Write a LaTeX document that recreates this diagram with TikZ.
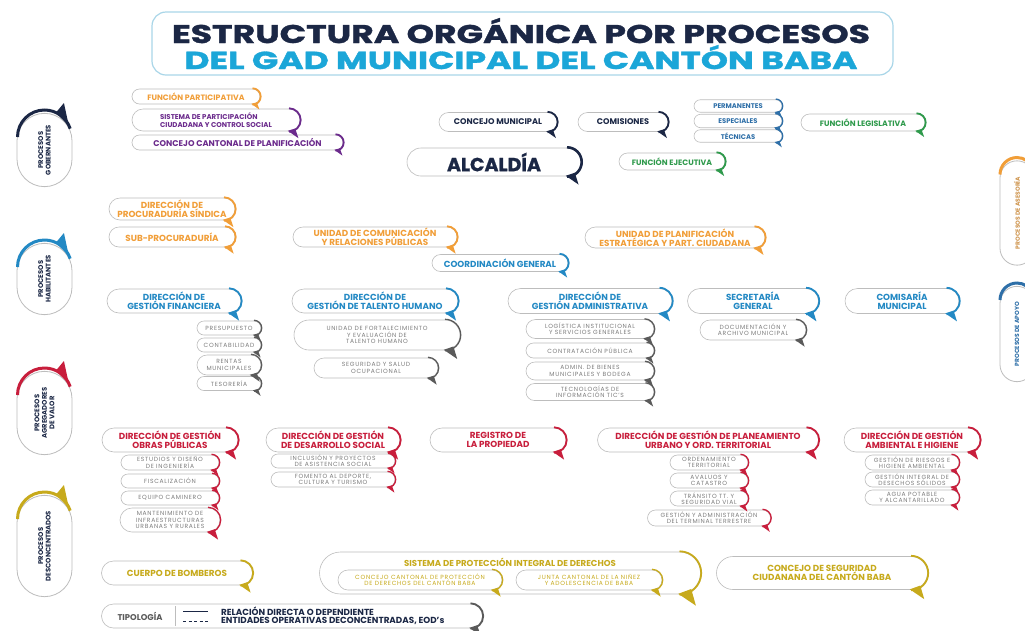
\documentclass[tikz,border=0pt]{standalone}
\usepackage{fontspec}
\setmainfont{Poppins}
\usepackage{graphicx}
\usetikzlibrary{shapes.misc,calc}
\pgfdeclarelayer{bg}
\pgfsetlayers{bg,main}
\definecolor{navy}{HTML}{1B2745}
\definecolor{cyanT}{HTML}{1BA6D8}
\definecolor{blueT}{HTML}{2389C4}
\definecolor{blueS}{HTML}{2E6FA8}
\definecolor{orangeT}{HTML}{F19E38}
\definecolor{purpleT}{HTML}{6B2A8C}
\definecolor{greenT}{HTML}{2F9A4C}
\definecolor{redT}{HTML}{C81E3C}
\definecolor{goldT}{HTML}{C7AA1C}
\definecolor{grayT}{HTML}{7C7C7C}
\definecolor{grayB}{HTML}{5A5A5A}
\definecolor{pillB}{HTML}{BDBDBD}
\definecolor{lineC}{HTML}{3C3C3C}
\definecolor{titleB}{HTML}{A9D6E8}
\newcommand\setfs[2]{\fontsize{#1}{#2}\selectfont}
\newcommand\brk[3][1.8pt]{%
  \draw[#3,line width=#1] let \p1=(#2.north),\p2=(#2.south),\p3=(#2.east),
      \n1={(\y1-\y2)/2},\n2={(\y1-\y2)/2+0.4pt} in
    ({\x3-\n1},{\y1-\n1+\n2}) arc[start angle=90,end angle=-90,radius=\n2];
  \fill[#3] let \p1=(#2.north),\p2=(#2.south),\p3=(#2.east),\n1={(\y1-\y2)/2} in
    ({\x3-\n1-1.2pt},{\y2+0.5pt}) -- ({\x3-0.3*\n1+1.5pt},{\y2-0.45*\n1-1.8pt})
      -- ({\x3-0.45*\n1},{\y2+0.25*\n1}) -- cycle;
}
\newcommand\sidearc[4]{% node, half length, radius, colour
  \draw[#4,line width=3pt] let \p1=(#1.center) in
    ({\x1-#3pt},{\y1+#2pt-#3pt}) arc[start angle=180,end angle=18,radius=#3pt];
  \fill[#4] let \p1=(#1.center) in
    ({\x1+0.42*#3pt},{\y1+#2pt-#3pt+0.9*#3pt}) -- ({\x1+0.72*#3pt},{\y1+#2pt+7pt})
      -- ({\x1+0.9*#3pt},{\y1+#2pt-#3pt+0.42*#3pt}) -- cycle;
}
\begin{document}
\begin{tikzpicture}[x=1pt,y=-1pt,
  pill/.style={rounded rectangle, draw=pillB, line width=0.6pt, fill=white, inner xsep=2pt, inner ysep=0.5pt, align=center},
  hd/.style={pill, font=\setfs{8.8}{9}\bfseries},
  sb/.style={pill, font=\setfs{6}{6.4}\addfontfeature{LetterSpace=12}, text=grayT},
  conn/.style={draw=lineC, line width=0.8pt},
  eod/.style={draw=navy!80, line width=0.7pt, dash pattern=on 2.5pt off 2pt},
  side/.style={rounded rectangle, draw=pillB, line width=0.8pt, fill=white, minimum height=55, rotate=90, align=center, font=\setfs{6.8}{7.4}\bfseries, text=navy}]
\useasboundingbox (0,0) rectangle (1025,630);
\clip (0,0) rectangle (1025,630);
\fill[white] (0,0) rectangle (1025,630);

% title
\node[draw=titleB, line width=1.2pt, rounded corners=14pt, minimum width=741, minimum height=63, fill=white] (tbox) at (522.5,43.5) {};
\node[anchor=base, text=navy, inner sep=0] (t1) at (521,43) {\resizebox{698pt}{25pt}{\setfs{24}{24}\bfseries\addfontfeature{FakeBold=1.2} ESTRUCTURA ORGÁNICA POR PROCESOS}};
\node[anchor=base, text=cyanT, inner sep=0] (t2) at (521,69) {\resizebox{673pt}{24pt}{\setfs{24}{24}\bfseries\addfontfeature{FakeBold=1.2} DEL GAD MUNICIPAL DEL CANTÓN BABA}};

% side labels
\node[side, minimum width=80] (gob) at (44.5,150) {PROCESOS\\GOBERNANTES};
\node[side, minimum width=78] (hab) at (44.5,279) {PROCESOS\\HABILITANTES};
\node[side, minimum width=90] (agr) at (44.5,413) {PROCESOS\\AGREGADORES\\DE VALOR};
\node[side, minimum width=108] (dsc) at (44.5,546) {PROCESOS\\DESCONCENTRADOS};
\node[side, minimum height=34, minimum width=111, text=orangeT!70!gray, font=\setfs{6}{6.4}\bfseries] (ase) at (1017,213) {PROCESOS DE ASESORÍA};
\node[side, minimum height=34, minimum width=102, text=blueS, font=\setfs{6}{6.4}\bfseries] (apo) at (1017,334) {PROCESOS DE APOYO};
\sidearc{gob}{40}{27}{navy}
\sidearc{hab}{39}{27}{blueT}
\sidearc{agr}{45}{27}{redT}
\sidearc{dsc}{54}{27}{goldT}
\sidearc{ase}{55.5}{17}{orangeT}
\sidearc{apo}{51}{17}{blueS}

% top-left
\node[hd, text=orangeT, font=\setfs{7.8}{8}\bfseries, minimum width=132, minimum height=15] (fpart) at (196,96.5) {FUNCIÓN PARTICIPATIVA};
\node[hd, text=purpleT, font=\setfs{7}{7.4}\bfseries, align=left, minimum width=172, minimum height=22] (spcs) at (216,120) {SISTEMA DE PARTICIPACIÓN\\CIUDADANA Y CONTROL SOCIAL};
\node[hd, text=purpleT, font=\setfs{8.3}{8.6}\bfseries, minimum width=215, minimum height=15] (ccp) at (237.5,142.5) {CONCEJO CANTONAL DE PLANIFICACIÓN};

% top
\node[hd, text=navy, font=\setfs{8.2}{8.6}\bfseries, minimum width=122, minimum height=19] (cm) at (498,122) {CONCEJO MUNICIPAL};
\node[hd, text=navy, font=\setfs{8.2}{8.6}\bfseries, minimum width=94, minimum height=19] (com) at (623,122) {COMISIONES};
\node[hd, text=blueS, font=\setfs{6.8}{7}\bfseries, minimum width=92, minimum height=12.5] (perm) at (738,106) {PERMANENTES};
\node[hd, text=blueS, font=\setfs{6.8}{7}\bfseries, minimum width=92, minimum height=13.5] (esp) at (738,121) {ESPECIALES};
\node[hd, text=blueS, font=\setfs{6.8}{7}\bfseries, minimum width=92, minimum height=12.5] (tec) at (738,136) {TÉCNICAS};
\coordinate (fk) at (684,122);
\node[hd, text=greenT, font=\setfs{7.8}{8}\bfseries, minimum width=128, minimum height=17] (flegis) at (863,122.5) {FUNCIÓN LEGISLATIVA};
\node[hd, text=navy, font=\setfs{19}{20}\bfseries\addfontfeature{FakeBold=1}, minimum width=178, minimum height=28] (alc) at (494,162) {ALCALDÍA};
\node[hd, text=greenT, font=\setfs{7.8}{8}\bfseries, minimum width=110, minimum height=17] (fejec) at (672,161.5) {FUNCIÓN EJECUTIVA};

% row 2
\node[hd, text=orangeT, minimum width=130, minimum height=22] (proc) at (172,209) {DIRECCIÓN DE\\PROCURADURÍA SÍNDICA};
\node[hd, text=orangeT, minimum width=130, minimum height=20] (subp) at (172,237) {SUB-PROCURADURÍA};
\node[hd, text=orangeT, minimum width=168, minimum height=20] (ucom) at (375,237) {UNIDAD DE COMUNICACIÓN\\Y RELACIONES PÚBLICAS};
\node[hd, text=orangeT, minimum width=184, minimum height=21] (upla) at (675,237.5) {UNIDAD DE PLANIFICACIÓN\\ESTRATÉGICA Y PART. CIUDADANA};
\node[hd, text=blueT, minimum width=140, minimum height=17] (coord) at (500,263) {COORDINACIÓN GENERAL};
\coordinate (b1) at (498,185);
\coordinate (b2) at (498,277);
\coordinate (b3) at (498,418);

% row 3
\node[hd, text=blueT, minimum width=138, minimum height=24] (fin) at (174,301) {DIRECCIÓN DE\\GESTIÓN FINANCIERA};
\node[sb, minimum width=68, minimum height=14] (pres) at (229,328) {PRESUPUESTO};
\node[sb, minimum width=68, minimum height=14] (cont) at (229,345) {CONTABILIDAD};
\node[sb, minimum width=68, minimum height=20] (rent) at (229,365) {RENTAS\\MUNICIPALES};
\node[sb, minimum width=68, minimum height=14] (teso) at (229,383.5) {TESORERÍA};
\node[hd, text=blueT, minimum width=170, minimum height=24] (tal) at (375,301) {DIRECCIÓN DE\\GESTIÓN DE TALENTO HUMANO};
\node[sb, minimum width=170, minimum height=30] (ufor) at (377,335) {UNIDAD DE FORTALECIMIENTO\\Y EVALUACIÓN DE\\TALENTO HUMANO};
\node[sb, minimum width=128, minimum height=20] (ssal) at (376,368) {SEGURIDAD Y SALUD\\OCUPACIONAL};
\node[hd, text=blueT, minimum width=168, minimum height=25] (adm) at (590,301) {DIRECCIÓN DE\\GESTIÓN ADMINISTRATIVA};
\node[sb, minimum width=132, minimum height=19] (log) at (590,329) {LOGÍSTICA INSTITUCIONAL\\Y SERVICIOS GENERALES};
\node[sb, minimum width=132, minimum height=15] (ctr) at (590,350.5) {CONTRATACIÓN PÚBLICA};
\node[sb, minimum width=132, minimum height=18] (bien) at (590,371) {ADMIN. DE BIENES\\MUNICIPALES Y BODEGA};
\node[sb, minimum width=132, minimum height=17] (tic) at (590,392) {TECNOLOGÍAS DE\\INFORMACIÓN TIC'S};
\node[hd, text=blueT, minimum width=135, minimum height=25] (sec) at (753,301) {SECRETARÍA\\GENERAL};
\node[sb, minimum width=110, minimum height=20] (doc) at (753,330) {DOCUMENTACIÓN Y\\ARCHIVO MUNICIPAL};
\node[hd, text=blueT, minimum width=118, minimum height=25] (comi) at (902,301) {COMISARÍA\\MUNICIPAL};

% row 4
\node[hd, text=redT, minimum width=140, minimum height=24] (obr) at (170,440) {DIRECCIÓN DE GESTIÓN\\OBRAS PÚBLICAS};
\node[sb, minimum width=102, minimum height=15] (est) at (170,462.5) {ESTUDIOS Y DISEÑO\\DE INGENIERÍA};
\node[sb, minimum width=102, minimum height=14] (fis) at (170,481) {FISCALIZACIÓN};
\node[sb, minimum width=102, minimum height=14] (eqc) at (170,498) {EQUIPO CAMINERO};
\node[sb, minimum width=104, minimum height=24] (mant) at (170,520) {MANTENIMIENTO DE\\INFRAESTRUCTURAS\\URBANAS Y RURALES};
\node[hd, text=redT, minimum width=138, minimum height=24] (des) at (333,440) {DIRECCIÓN DE GESTIÓN\\DE DESARROLLO SOCIAL};
\node[sb, minimum width=128, minimum height=14] (inc) at (333,461) {INCLUSIÓN Y PROYECTOS\\DE ASISTENCIA SOCIAL};
\node[sb, minimum width=128, minimum height=15] (fom) at (333,479.5) {FOMENTO AL DEPORTE,\\CULTURA Y TURISMO};
\node[hd, text=redT, minimum width=140, minimum height=24] (reg) at (498,440) {REGISTRO DE\\LA PROPIEDAD};
\node[hd, text=redT, minimum width=225, minimum height=24] (pla) at (708,440) {DIRECCIÓN DE GESTIÓN DE PLANEAMIENTO\\URBANO Y ORD. TERRITORIAL};
\node[sb, minimum width=82, minimum height=15] (ord) at (709,462.5) {ORDENAMIENTO\\TERRITORIAL};
\node[sb, minimum width=82, minimum height=15] (ava) at (709,480.5) {AVALUOS Y\\CATASTRO};
\node[sb, minimum width=82, minimum height=15] (tra) at (709,498.5) {TRÁNSITO TT. Y\\SEGURIDAD VIAL};
\node[sb, minimum width=127, minimum height=16] (ter) at (709,518) {GESTIÓN Y ADMINISTRACIÓN\\DEL TERMINAL TERRESTRE};
\node[hd, text=redT, minimum width=140, minimum height=24] (amb) at (912,440) {DIRECCIÓN DE GESTIÓN\\AMBIENTAL E HIGIENE};
\node[sb, minimum width=98, minimum height=15] (rie) at (912,462.5) {GESTIÓN DE RIESGOS E\\HIGIENE AMBIENTAL};
\node[sb, minimum width=98, minimum height=15] (dsol) at (912,479.5) {GESTIÓN INTEGRAL DE\\DESECHOS SÓLIDOS};
\node[sb, minimum width=98, minimum height=15] (agua) at (912,497.5) {AGUA POTABLE\\Y ALCANTARILLADO};

% bottom
\node[hd, text=goldT, minimum width=155, minimum height=24] (bomb) at (177,573) {CUERPO DE BOMBEROS};
\node[pill, minimum width=385, minimum height=42] (spid) at (510,573) {};
\node[text=goldT, font=\setfs{8.6}{9}\bfseries, inner sep=0] (spidt) at (510,562) {SISTEMA DE PROTECCIÓN INTEGRAL DE DERECHOS};
\node[sb, text=goldT, minimum width=168, minimum height=20] (cc1) at (420,580) {CONCEJO CANTONAL DE PROTECCIÓN\\DE DERECHOS DEL CANTÓN BABA};
\node[sb, text=goldT, minimum width=150, minimum height=20] (jc) at (589,580) {JUNTA CANTONAL DE LA NIÑEZ\\Y ADOLESCENCIA DE BABA};
\node[hd, text=goldT, minimum width=215, minimum height=33] (cseg) at (822,573) {CONCEJO DE SEGURIDAD\\CIUDANANA DEL CANTÓN BABA};
\coordinate (dc) at (90,573);

% legend
\node[pill, minimum width=385, minimum height=24] (tip) at (292,616) {};
\node[text=grayB, font=\setfs{8.4}{9}\bfseries] (tipl) at (140,616) {TIPOLOGÍA};
\draw[pillB, line width=0.6pt] (175,606) -- (175,626);
\draw[navy, line width=0.8pt] (183,611.5) -- (208,611.5);
\draw[navy, line width=0.8pt, dash pattern=on 3pt off 2.5pt] (183,621) -- (208,621);
\node[anchor=west, text=navy, font=\setfs{8.8}{9}\bfseries, inner sep=0] (lg1) at (221,611.5) {RELACIÓN DIRECTA O DEPENDIENTE};
\node[anchor=west, text=navy, font=\setfs{8.8}{9}\bfseries, inner sep=0] (lg2) at (221,621) {ENTIDADES OPERATIVAS DECONCENTRADAS, EOD's};

% brackets
\foreach \nm/\cl in {cm/navy,com/navy,flegis/greenT,fejec/greenT,fpart/orangeT,spcs/purpleT,ccp/purpleT,
  proc/orangeT,subp/orangeT,ucom/orangeT,upla/orangeT,coord/blueT,fin/blueT,tal/blueT,adm/blueT,sec/blueT,comi/blueT,
  obr/redT,des/redT,reg/redT,pla/redT,amb/redT,bomb/goldT,spid/goldT,cseg/goldT,tip/grayB}{\brk{\nm}{\cl}}
\brk[2.6pt]{alc}{navy}
\foreach \nm/\cl in {perm/blueS,esp/blueS,tec/blueS,pres/grayB,cont/grayB,rent/grayB,teso/grayB,ufor/grayB,ssal/grayB,
  log/grayB,ctr/grayB,bien/grayB,tic/grayB,doc/grayB,est/redT,fis/redT,eqc/redT,mant/redT,inc/redT,fom/redT,
  ord/redT,ava/redT,tra/redT,ter/redT,rie/redT,dsol/redT,agua/redT,cc1/goldT,jc/goldT}{\brk[1.3pt]{\nm}{\cl}}

% connectors
\begin{pgfonlayer}{bg}
\draw[conn] (cm.south) -- (cm.south |- alc.north);
\draw[conn] (cm.east) -- (com.west);
\draw[conn] (com.east) -- (fk);
\draw[conn] (perm.west) -| (fk) |- (tec.west);
\draw[conn] (esp.west) -- (fk);
\draw[conn] (b1 |- alc.south) -- (b1 |- coord.north);
\draw[conn] (b1 |- coord.south) -- (b1 |- reg.north);
\draw[conn] (proc.north) |- (b1) -| (upla.north);
\draw[conn] (ucom.north) -- (ucom.north |- b1);
\draw[conn] (proc.south) -- (subp.north);
\draw[conn] (fin.north) |- (b2) -| (comi.north);
\draw[conn] (tal.north) -- (tal.north |- b2);
\draw[conn] (adm.north) -- (adm.north |- b2);
\draw[conn] (sec.north) -- (sec.north |- b2);
\draw[conn] (fin.south) -- (fin.south |- teso.west);
\foreach \s in {pres,cont,rent,teso} \draw[conn] (\s.west) -- (\s.west -| fin.south);
\draw[conn] (tal.south) -- (ufor.north);
\draw[conn] (ufor.south) -- (ssal.north);
\draw[conn] (adm.south) -- (log.north);
\draw[conn] (log.south) -- (ctr.north);
\draw[conn] (ctr.south) -- (bien.north);
\draw[conn] (bien.south) -- (tic.north);
\draw[conn] (sec.south) -- (doc.north);
\draw[conn] (obr.north) |- (b3) -| (amb.north);
\draw[conn] (des.north) -- (des.north |- b3);
\draw[conn] (pla.north) -- (pla.north |- b3);
\draw[conn] (obr.south) -- (est.north);
\draw[conn] (est.south) -- (fis.north);
\draw[conn] (fis.south) -- (eqc.north);
\draw[conn] (eqc.south) -- (mant.north);
\draw[conn] (des.south) -- (inc.north);
\draw[conn] (inc.south) -- (fom.north);
\draw[conn] (pla.south) -- (ord.north);
\draw[conn] (ord.south) -- (ava.north);
\draw[conn] (ava.south) -- (tra.north);
\draw[conn] (tra.south) -- (ter.north);
\draw[conn] (amb.south) -- (rie.north);
\draw[conn] (rie.south) -- (dsol.north);
\draw[conn] (dsol.south) -- (agua.north);
\draw[eod] (alc.west) -| (dc) -- (bomb.west);
\draw[eod] (bomb.east) -- (spid.west);
\draw[eod] (spid.east) -- (cseg.west);
\end{pgfonlayer}
\end{tikzpicture}
\end{document}
